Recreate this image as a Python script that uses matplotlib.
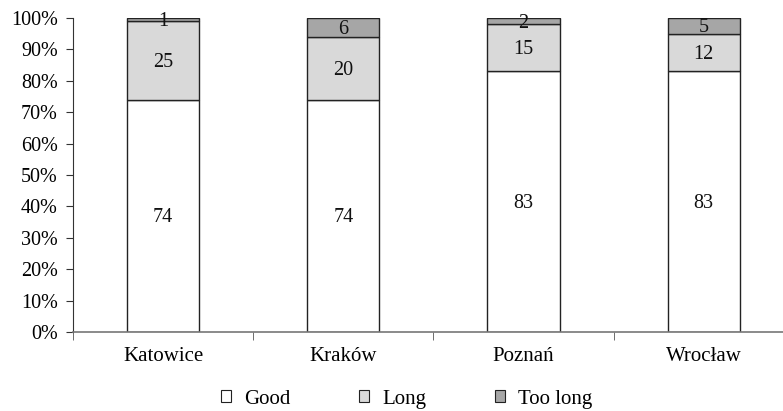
import matplotlib
matplotlib.use("Agg")
import matplotlib.pyplot as plt
import numpy as np

categories = ["Katowice", "Kraków", "Poznań", "Wrocław"]
good = [74, 74, 83, 83]
long_ = [25, 20, 15, 12]
too_long = [1, 6, 2, 5]
series_names = ["Good", "Long", "Too long"]
colors = ["#ffffff", "#d9d9d9", "#a6a6a6"]

plt.rcParams['font.family'] = ['Liberation Serif', 'DejaVu Serif']

fig = plt.figure(figsize=(7.83, 4.11), dpi=100)
ax = fig.add_axes([73/783, 1-332/411, 1-73/783, (332-18)/411])

x = np.arange(len(categories))
width = 0.4
bottom = np.zeros(len(categories))
handles = []
for vals, name, col in zip([good, long_, too_long], series_names, colors):
    bars = ax.bar(x, vals, width, bottom=bottom, color=col, edgecolor="#222222",
                  linewidth=1.0, label=name)
    handles.append(bars)
    for xi, b, v in zip(x, bottom, vals):
        ax.text(xi, b + v/2 - 0.6, str(v), ha="center", va="center", fontsize=14.5, color="#111111")
    bottom += np.array(vals)

ax.set_xlim(-0.5, 3.44)
ax.set_ylim(0, 100)
ax.set_yticks(np.arange(0, 101, 10))
ax.set_yticklabels([f"{v}%" for v in range(0, 101, 10)], fontsize=14.5)
ax.set_xticks(x)
ax.set_xticklabels(categories, fontsize=15)
ax.tick_params(axis="x", length=0, pad=11)
ax.set_xticks(np.arange(-0.5, 3.5, 1.0), minor=True)
ax.tick_params(axis="x", which="minor", length=6, direction="out", color="#555555")
ax.tick_params(axis="y", length=5, direction="out", color="#333333", pad=6)
for s in ["top", "right"]:
    ax.spines[s].set_visible(False)
ax.spines["left"].set_color("#333333")
ax.spines["bottom"].set_color("#777777")
ax.spines["bottom"].set_linewidth(1.2)

leg = fig.legend(handles=handles, labels=series_names, loc="center", bbox_to_anchor=(0.519, 1-399/411),
                 ncol=3, frameon=False, fontsize=15, handlelength=0.5, handleheight=0.5,
                 columnspacing=3.3, handletextpad=0.6)
for p in leg.legend_handles:
    p.set_linewidth(0.8)

fig.savefig("out.png", dpi=100)
